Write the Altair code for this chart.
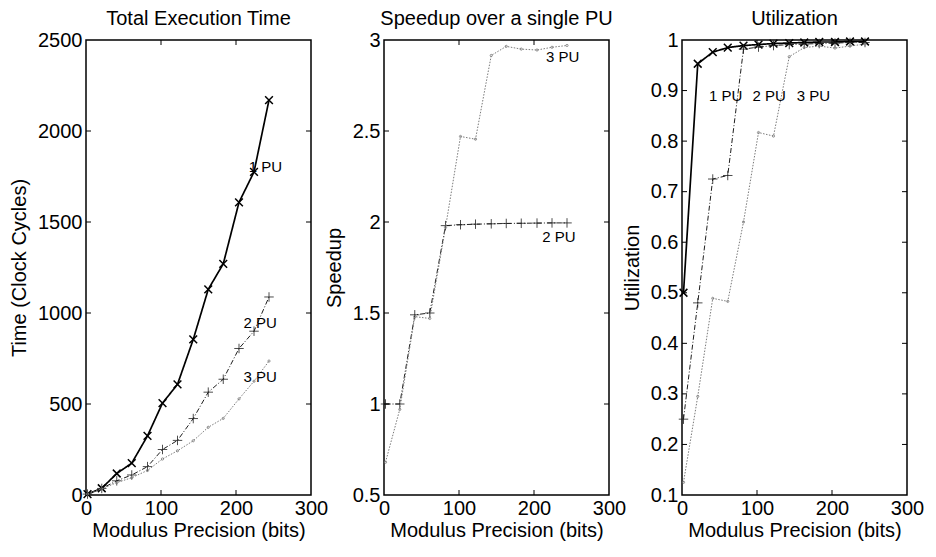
import altair as alt
import pandas as pd

FONT = "Liberation Sans"

# ---------------- data ----------------
bits = [2, 21, 41, 61, 82, 102, 122, 143, 163, 183, 204, 224, 244]

time_1pu = [5, 37, 118, 175, 325, 505, 608, 855, 1130, 1270, 1608, 1775, 2170]
time_2pu = [5, 36, 78, 110, 156, 250, 300, 420, 565, 636, 805, 900, 1088]
time_3pu = [5, 34, 68, 95, 135, 198, 243, 298, 372, 421, 528, 625, 736]

speedup_2pu = [1.0, 1.0, 1.49, 1.5, 1.98, 1.985, 1.988, 1.99, 1.992, 1.993, 1.994, 1.995, 1.995]
speedup_3pu = [0.68, 0.97, 1.48, 1.47, 1.97, 2.47, 2.455, 2.915, 2.965, 2.95, 2.945, 2.96, 2.97]

util_1pu = [0.5, 0.953, 0.976, 0.985, 0.989, 0.991, 0.993, 0.994, 0.995, 0.996, 0.996, 0.997, 0.997]
util_2pu = [0.25, 0.48, 0.725, 0.732, 0.982, 0.986, 0.989, 0.991, 0.992, 0.993, 0.994, 0.995, 0.995]
util_3pu = [0.125, 0.295, 0.489, 0.483, 0.64, 0.817, 0.81, 0.967, 0.985, 0.988, 0.984, 0.988, 0.992]

x_ticks = [0, 100, 200, 300]
time_ticks = [0, 500, 1000, 1500, 2000, 2500]
speedup_ticks = [0.5, 1, 1.5, 2, 2.5, 3]
util_ticks = [0.1, 0.2, 0.3, 0.4, 0.5, 0.6, 0.7, 0.8, 0.9, 1.0]

time_labels = ["1 PU", "2 PU", "3 PU"]
time_label_x = [217, 210, 210]
time_label_y = [1800, 947, 651]

speed_labels = ["3 PU", "2 PU"]
speed_label_x = [216, 211]
speed_label_y = [2.905, 1.918]

util_labels = ["1 PU", "2 PU", "3 PU"]
util_label_x = [36, 94, 153]
util_label_y = [0.89, 0.89, 0.89]

# ---------------- styles ----------------
X_PATH = "M-1,-1L1,1M-1,1L1,-1"
PLUS_PATH = "M-1,0L1,0M0,-1L0,1"
STYLE = {
    "1 PU": dict(color="black", dash=[1, 0], width=1.7, shape=X_PATH, size=60, pw=1.5),
    "2 PU": dict(color="#1e1e1e", dash=[5, 2, 1, 2], width=1.0, shape=PLUS_PATH, size=90, pw=0.8),
    "3 PU": dict(color="#7a7a7a", dash=[1.5, 1.5], width=1.0, shape="circle", size=5, pw=0.8),
}

W, H = 225, 455


def make_panel(series, ydom, yticks, yfmt, ytitle, title, lab_text, lab_x, lab_y):
    xscale = alt.Scale(domain=[0, 300], nice=False, zero=False)
    yscale = alt.Scale(domain=ydom, nice=False, zero=False)
    xaxis = alt.Axis(values=x_ticks, title="Modulus Precision (bits)", format="d",
                     titlePadding=2, labelPadding=3)
    yaxis = alt.Axis(values=yticks, title=ytitle, format=yfmt, titlePadding=8)

    def X(field):
        return alt.X(field, scale=xscale, axis=xaxis)

    def Y(field):
        return alt.Y(field, scale=yscale, axis=yaxis)

    layers = []
    for name, vals in series:
        st = STYLE[name]
        df = pd.DataFrame({"bits": bits, "value": vals})
        line = alt.Chart(df).mark_line(
            color=st["color"], strokeDash=st["dash"], strokeWidth=st["width"]
        ).encode(x=X("bits:Q"), y=Y("value:Q"))
        pts = alt.Chart(df).mark_point(
            shape=st["shape"], size=st["size"], filled=False,
            stroke=st["color"], strokeWidth=st["pw"], opacity=1,
        ).encode(x=X("bits:Q"), y=Y("value:Q"))
        layers += [line, pts]

    ldf = pd.DataFrame({"label": lab_text, "bits": lab_x, "value": lab_y})
    text = alt.Chart(ldf).mark_text(
        align="left", baseline="middle", fontSize=15, font=FONT, color="black"
    ).encode(x=X("bits:Q"), y=Y("value:Q"), text="label:N")
    layers.append(text)

    xt = pd.DataFrame({"bits": x_ticks[1:-1]})
    yt = pd.DataFrame({"value": yticks[1:-1]})
    tick_bottom = alt.Chart(xt).mark_rule(color="black", strokeWidth=1).encode(
        x=X("bits:Q"), y=alt.value(H), y2=alt.value(H - 5))
    tick_top = alt.Chart(xt).mark_rule(color="black", strokeWidth=1).encode(
        x=X("bits:Q"), y=alt.value(0), y2=alt.value(5))
    tick_left = alt.Chart(yt).mark_rule(color="black", strokeWidth=1).encode(
        y=Y("value:Q"), x=alt.value(0), x2=alt.value(5))
    tick_right = alt.Chart(yt).mark_rule(color="black", strokeWidth=1).encode(
        y=Y("value:Q"), x=alt.value(W), x2=alt.value(W - 5))
    layers += [tick_bottom, tick_top, tick_left, tick_right]

    return alt.layer(*layers).properties(
        width=W, height=H,
        title=alt.TitleParams(title, fontSize=20, font=FONT, fontWeight="normal",
                              anchor="middle", offset=1, frame="group", color="black"),
    )


p1 = make_panel([("1 PU", time_1pu), ("2 PU", time_2pu), ("3 PU", time_3pu)],
                [0, 2500], time_ticks, "d", "Time (Clock Cycles)", "Total Execution Time",
                time_labels, time_label_x, time_label_y)
p2 = make_panel([("2 PU", speedup_2pu), ("3 PU", speedup_3pu)],
                [0.5, 3], speedup_ticks, "~g", "Speedup", "Speedup over a single PU",
                speed_labels, speed_label_x, speed_label_y)
p3 = make_panel([("1 PU", util_1pu), ("2 PU", util_2pu), ("3 PU", util_3pu)],
                [0.1, 1], util_ticks, "~g", "Utilization", "Utilization",
                util_labels, util_label_x, util_label_y)

chart = alt.hconcat(p1, p2, p3, spacing=73, bounds="flush").properties(
    padding={"left": 0, "top": 0, "right": 0, "bottom": 0}
).configure_view(
    stroke="black", strokeWidth=1.5
).configure_axis(
    labelFont=FONT, labelFontSize=20, labelColor="black",
    titleFont=FONT, titleFontSize=20, titleFontWeight="normal", titleColor="black",
    ticks=False, domain=False, grid=False, labelPadding=4,
    labelFlush=False, labelOverlap=False,
)

chart.save("out.html", embed_options={"renderer": "svg", "actions": False})
